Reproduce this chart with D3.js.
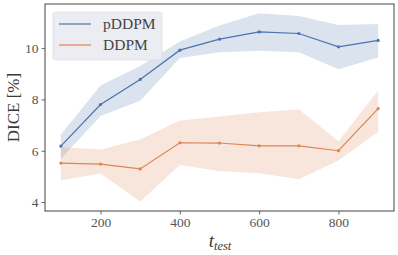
<!DOCTYPE html>
<html>
<head>
<meta charset="utf-8">
<script src="https://cdn.jsdelivr.net/npm/d3@7"></script>
<style>
body { margin: 0; background: #fff; }
text { font-family: "Liberation Serif", "DejaVu Serif", serif; }
</style>
</head>
<body>
<svg id="chart" width="398" height="255"></svg>
<script>
// steps on the x axis
var steps = [100, 200, 300, 400, 500, 600, 700, 800, 900];

// pDDPM mean and band
var pMean = [6.18, 7.80, 8.78, 9.92, 10.35, 10.63, 10.57, 10.05, 10.30];
var pLow  = [5.69, 7.35, 7.95, 9.61, 9.84, 9.90, 9.84, 9.18, 9.63];
var pHigh = [6.63, 8.54, 9.30, 10.26, 10.88, 11.36, 11.25, 10.90, 10.94];

// DDPM mean and band
var dMean = [5.52, 5.48, 5.29, 6.31, 6.30, 6.19, 6.19, 6.00, 7.64];
var dLow  = [4.85, 5.11, 4.02, 5.44, 5.21, 5.12, 4.89, 5.62, 6.74];
var dHigh = [6.14, 6.05, 6.44, 7.18, 7.33, 7.50, 7.62, 6.37, 8.35];

var xTicks = [200, 400, 600, 800];
var yTicks = [4, 6, 8, 10];
var seriesNames = ["pDDPM", "DDPM"];
var colors = ["#4c72b0", "#dd8452"];

var svg = d3.select("#chart");
// note: "top" is taken by window.top, so plot edges get their own names
var plotL = 45, plotR = 394, plotT = 4, plotB = 211;

var x = d3.scaleLinear().domain([60, 940]).range([plotL, plotR]);
var y = d3.scaleLinear().domain([3.65, 11.72]).range([plotB, plotT]);

var series = [
  {mean: pMean, low: pLow, high: pHigh},
  {mean: dMean, low: dLow, high: dHigh}
];

var area = d3.area()
  .x(function(d) { return x(d.x); })
  .y0(function(d) { return y(d.lo); })
  .y1(function(d) { return y(d.hi); });

var line = d3.line()
  .x(function(d) { return x(d.x); })
  .y(function(d) { return y(d.v); });

// bands first so both lines sit on top
series.forEach(function(s, k) {
  var pts = steps.map(function(t, i) { return {x: t, lo: s.low[i], hi: s.high[i]}; });
  svg.append("path")
    .datum(pts)
    .attr("d", area)
    .attr("fill", colors[k])
    .attr("fill-opacity", 0.2);
});

series.forEach(function(s, k) {
  var pts = steps.map(function(t, i) { return {x: t, v: s.mean[i]}; });
  svg.append("path")
    .datum(pts)
    .attr("d", line)
    .attr("fill", "none")
    .attr("stroke", colors[k])
    .attr("stroke-width", 1.2);
  svg.selectAll(null)
    .data(pts)
    .enter().append("circle")
    .attr("cx", function(d) { return x(d.x); })
    .attr("cy", function(d) { return y(d.v); })
    .attr("r", 1.6)
    .attr("fill", colors[k]);
});

// axes
var xAxis = svg.append("g")
  .attr("transform", "translate(0," + plotB + ")")
  .call(d3.axisBottom(x).tickValues(xTicks).tickSize(3.5).tickPadding(3));
var yAxis = svg.append("g")
  .attr("transform", "translate(" + plotL + ",0)")
  .call(d3.axisLeft(y).tickValues(yTicks).tickSize(3.5).tickPadding(3));

[xAxis, yAxis].forEach(function(a) {
  a.select(".domain").remove();
  a.selectAll(".tick line").attr("stroke", "#444").attr("stroke-width", 0.8);
  a.selectAll(".tick text")
    .attr("fill", "#555")
    .attr("font-size", 13.5)
    .style("font-family", "'Liberation Serif', serif");
});

// frame
svg.append("rect")
  .attr("x", plotL).attr("y", plotT)
  .attr("width", plotR - plotL).attr("height", plotB - plotT)
  .attr("fill", "none")
  .attr("stroke", "#444")
  .attr("stroke-width", 1);

// axis labels
svg.append("text")
  .attr("transform", "translate(19," + ((plotT + plotB) / 2) + ") rotate(-90)")
  .attr("text-anchor", "middle")
  .attr("font-size", 17)
  .attr("fill", "#3a3a3a")
  .text("DICE [%]");

var xl = svg.append("text")
  .attr("x", 220)
  .attr("y", 247)
  .attr("text-anchor", "middle")
  .attr("fill", "#3a3a3a")
  .attr("font-style", "italic");
xl.append("tspan").attr("font-size", 19).text("t");
xl.append("tspan").attr("font-size", 12.5).attr("dy", 3).text("test");

// legend
var lg = svg.append("g");
lg.append("rect")
  .attr("x", 53).attr("y", 12)
  .attr("width", 109).attr("height", 48)
  .attr("rx", 3)
  .attr("fill", "#e9ebf1")
  .attr("fill-opacity", 0.9)
  .attr("stroke", "#dcdde3")
  .attr("stroke-width", 0.8);

var items = lg.selectAll("g.item")
  .data(seriesNames)
  .enter().append("g")
  .attr("class", "item")
  .attr("transform", function(d, i) { return "translate(0," + (24 + i * 21) + ")"; });

items.append("line")
  .attr("x1", 59).attr("x2", 91)
  .attr("stroke", function(d, i) { return colors[i]; })
  .attr("stroke-width", 1.2);

items.append("text")
  .attr("x", 103)
  .attr("dy", "0.35em")
  .attr("font-size", 15.5)
  .attr("fill", "#444")
  .text(function(d) { return d; });
</script>
</body>
</html>
